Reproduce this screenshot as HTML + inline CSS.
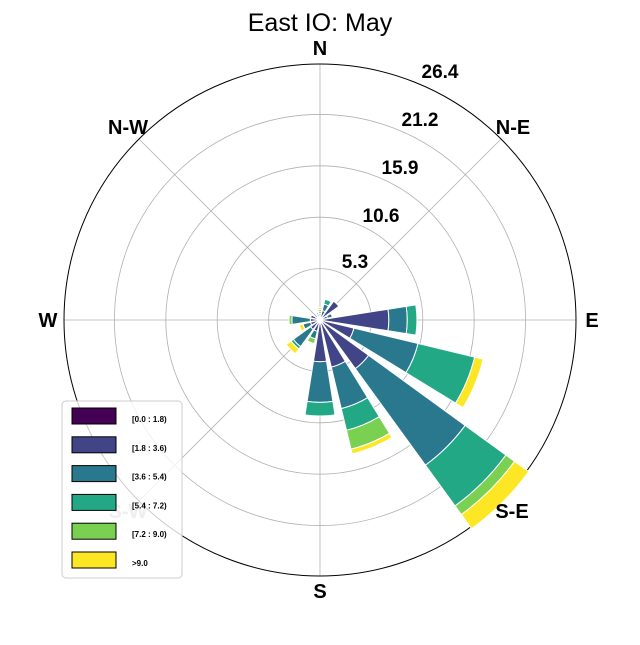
<!DOCTYPE html>
<html><head><meta charset="utf-8"><style>
body{margin:0;background:#fff;}
svg text{font-family:"Liberation Sans",Arial,sans-serif;}
</style></head><body>
<svg id="chart" width="640" height="640" viewBox="0 0 640 640" xmlns="http://www.w3.org/2000/svg">
<rect width="640" height="640" fill="#fff"/>
<text x="320" y="31" font-size="25" text-anchor="middle">East IO: May</text>
<g id="grid"></g>
<g id="bars"></g>
<g id="labels"></g>
<g id="legend"></g>
</svg>
<script>
const directions = ["N","NNE","NE","ENE","E","ESE","SE","SSE","S","SSW","SW","WSW","W","WNW","NW","NNW"];
const binLabels = ["[0.0 : 1.8)","[1.8 : 3.6)","[3.6 : 5.4)","[5.4 : 7.2)","[7.2 : 9.0)",">9.0"];
const bin0 = [0.3,0.2,0.3,0.2,0.3,0.3,0.3,0.3,0.3,0.2,0.2,0.2,0.2,0.2,0.2,0.2];
const bin1 = [0.2,0.8,2.1,0.6,6.8,3.3,5.9,4.7,4.0,1.0,1.0,0.8,0.8,0.8,0.2,0.2];
const bin2 = [0.2,0.7,0,0.5,1.9,6.8,12.3,4.4,4.2,0.8,2.2,0.8,1.9,0,0,0.2];
const bin3 = [0.2,0.5,0,0,1.0,6.0,5.2,2.3,1.4,0,0.3,0,0,0,0,0];
const bin4 = [0.2,0,0,0,0,0,1.1,2.0,0,0.5,0,0,0.3,0,0,0.2];
const bin5 = [0.2,0,0,0,0,0.9,1.8,0.5,0,0,0.6,0.4,0,0,0,0];
const ringTicks = [5.3,10.6,15.9,21.2,26.4];
const ringTickLabels = ["5.3","10.6","15.9","21.2","26.4"];

const NS="http://www.w3.org/2000/svg";
const cx=320, cy=320, R=256, rMax=26.4;
const colors=["#440154","#414487","#2a788e","#22a884","#7ad151","#fde725"];
const bins=[bin0,bin1,bin2,bin3,bin4,bin5];
function rScale(v){return v*R/rMax;}
function pt(r,deg){const a=deg*Math.PI/180;return [cx+r*Math.sin(a), cy-r*Math.cos(a)];}
function mk(tag,attrs,parent){const e=document.createElementNS(NS,tag);for(const k in attrs)e.setAttribute(k,attrs[k]);parent.appendChild(e);return e;}

const grid=document.getElementById('grid');
for(let i=0;i<8;i++){const p=pt(R,i*45);
 const l=mk('line',{x1:cx,y1:cy,x2:p[0],y2:p[1],stroke:'#b0b0b0','stroke-width':0.8},grid);
 
 }
ringTicks.slice(0,4).forEach(t=>{const c=mk('circle',{cx:cx,cy:cy,r:rScale(t),fill:'none',stroke:'#b0b0b0','stroke-width':0.8},grid);
 
 });
const oc=mk('circle',{cx:cx,cy:cy,r:R,fill:'none',stroke:'#000','stroke-width':1},grid);



const bars=document.getElementById('bars');
const half=9;
directions.forEach((d,i)=>{
 const th=i*22.5; let cum=0;
 bins.forEach((b,j)=>{
  const v=b[i]; if(v<=0)return;
  const r0=rScale(cum), r1=rScale(cum+v); cum+=v;
  const a=pt(r0,th-half), bb=pt(r1,th-half), c=pt(r1,th+half), e=pt(r0,th+half);
  const dstr=`M${a[0]},${a[1]} L${bb[0]},${bb[1]} A${r1},${r1} 0 0 1 ${c[0]},${c[1]} L${e[0]},${e[1]} A${r0},${r0} 0 0 0 ${a[0]},${a[1]}Z`;
  const p=mk('path',{d:dstr,fill:colors[j],stroke:'#fff','stroke-width':1},bars);
  
  
 });
});

const labels=document.getElementById('labels');
const dirLabels=[["N",320,55],["N-E",513,134],["E",592,327],["S-E",512,518],["S",320,598],["S-W",128,518],["W",48,327],["N-W",128,134]];
dirLabels.forEach(([t,x,y])=>{const e=mk('text',{x:x,y:y,'font-size':20,'font-weight':'bold','text-anchor':'middle',fill:t==="S-W"?'#aaa':'#000'},labels);e.textContent=t;
 
 });
const rlPos=[[355,268],[381,222],[400,174],[420,126],[440,78]];
ringTickLabels.forEach((t,i)=>{const e=mk('text',{x:rlPos[i][0],y:rlPos[i][1],'font-size':19,'font-weight':'bold','text-anchor':'middle'},labels);e.textContent=t;
 
 });

const lg=document.getElementById('legend');
const box=mk('rect',{x:62,y:401,width:120,height:177,rx:4,fill:'#fff','fill-opacity':0.8,stroke:'#ccc','stroke-width':1},lg);


binLabels.forEach((t,j)=>{const y=408+j*28.8;
 const r=mk('rect',{x:72,y:y,width:44,height:16,fill:colors[j],stroke:'#000','stroke-width':1},lg);
 
 
 const tx=mk('text',{x:132,y:y+14,'font-size':8,'font-weight':'bold'},lg);tx.textContent=t;
 
 });
</script>
</body></html>
